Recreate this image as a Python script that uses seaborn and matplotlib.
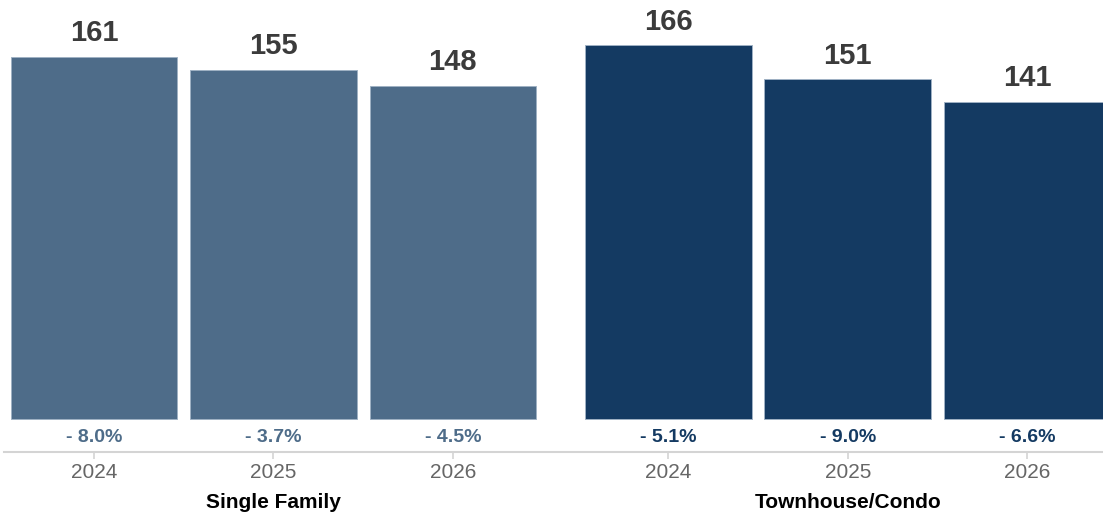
import matplotlib
matplotlib.use("Agg")
import matplotlib.pyplot as plt
import matplotlib.transforms as mtransforms
import seaborn as sns
import pandas as pd

# ---- data ----
groups = ["Single Family", "Townhouse/Condo"]
years = ["2024", "2025", "2026"]
sf_values = [161, 155, 148]
tc_values = [166, 151, 141]
sf_changes = [-8.0, -3.7, -4.5]
tc_changes = [-5.1, -9.0, -6.6]

colors = {"Single Family": "#4e6c89", "Townhouse/Condo": "#143a62"}
group_offset = [0.0, 3.2]

rows = []
for g, vals, chg, off in zip(groups, [sf_values, tc_values], [sf_changes, tc_changes], group_offset):
    for i, (y, v, c) in enumerate(zip(years, vals, chg)):
        rows.append({"group": g, "year": y, "pos": off + i, "value": v, "change": c})
df = pd.DataFrame(rows)

sns.set_theme(style="white")
plt.rcParams["font.family"] = ["Liberation Sans", "DejaVu Sans"]

fig = plt.figure(figsize=(11.03, 5.16), dpi=100)
ax = fig.add_axes([0, 64.5 / 516, 1, 451.5 / 516])

sns.barplot(data=df, x="pos", y="value", hue="group", palette=colors,
            native_scale=True, dodge=False, width=0.928, legend=False,
            edgecolor="#9fb1c4", linewidth=0.7, saturation=1, ax=ax, errorbar=None)

ax.set_xlim(-0.523, 5.622)
ax.set_ylim(-14.2, 186.1)

for _, r in df.iterrows():
    ax.annotate(f"{r['value']:d}", (r["pos"], r["value"]), xytext=(0, 17),
                textcoords="offset points", ha="center", va="center",
                fontsize=21, fontweight="bold", color="#3b3b3b")
    ax.annotate(f"- {abs(r['change']):.1f}%", (r["pos"], 0), xytext=(0, -13.3),
                textcoords="offset points", ha="center", va="center",
                fontsize=14, fontweight="bold", color=colors[r["group"]])

ax.set_xticks(df["pos"].tolist())
ax.set_xticklabels(df["year"].tolist())
ax.tick_params(axis="x", bottom=True, length=5, width=1.2, color="#d4d4d4",
               labelsize=15, labelcolor="#666666", pad=3)
ax.set_yticks([])
ax.set_xlabel("")
ax.set_ylabel("")

for s in ["top", "left", "right"]:
    ax.spines[s].set_visible(False)
ax.spines["bottom"].set_color("#d4d4d4")
ax.spines["bottom"].set_linewidth(1.5)
ax.spines["bottom"].set_bounds(-0.5, 5.622)

trans = mtransforms.blended_transform_factory(ax.transData, fig.transFigure)
for g, off in zip(groups, group_offset):
    ax.text(off + 1, (516 - 503) / 516, g, transform=trans, ha="center", va="center",
            fontsize=15, fontweight="bold", color="#000000")

fig.savefig("out.png", dpi=100)
